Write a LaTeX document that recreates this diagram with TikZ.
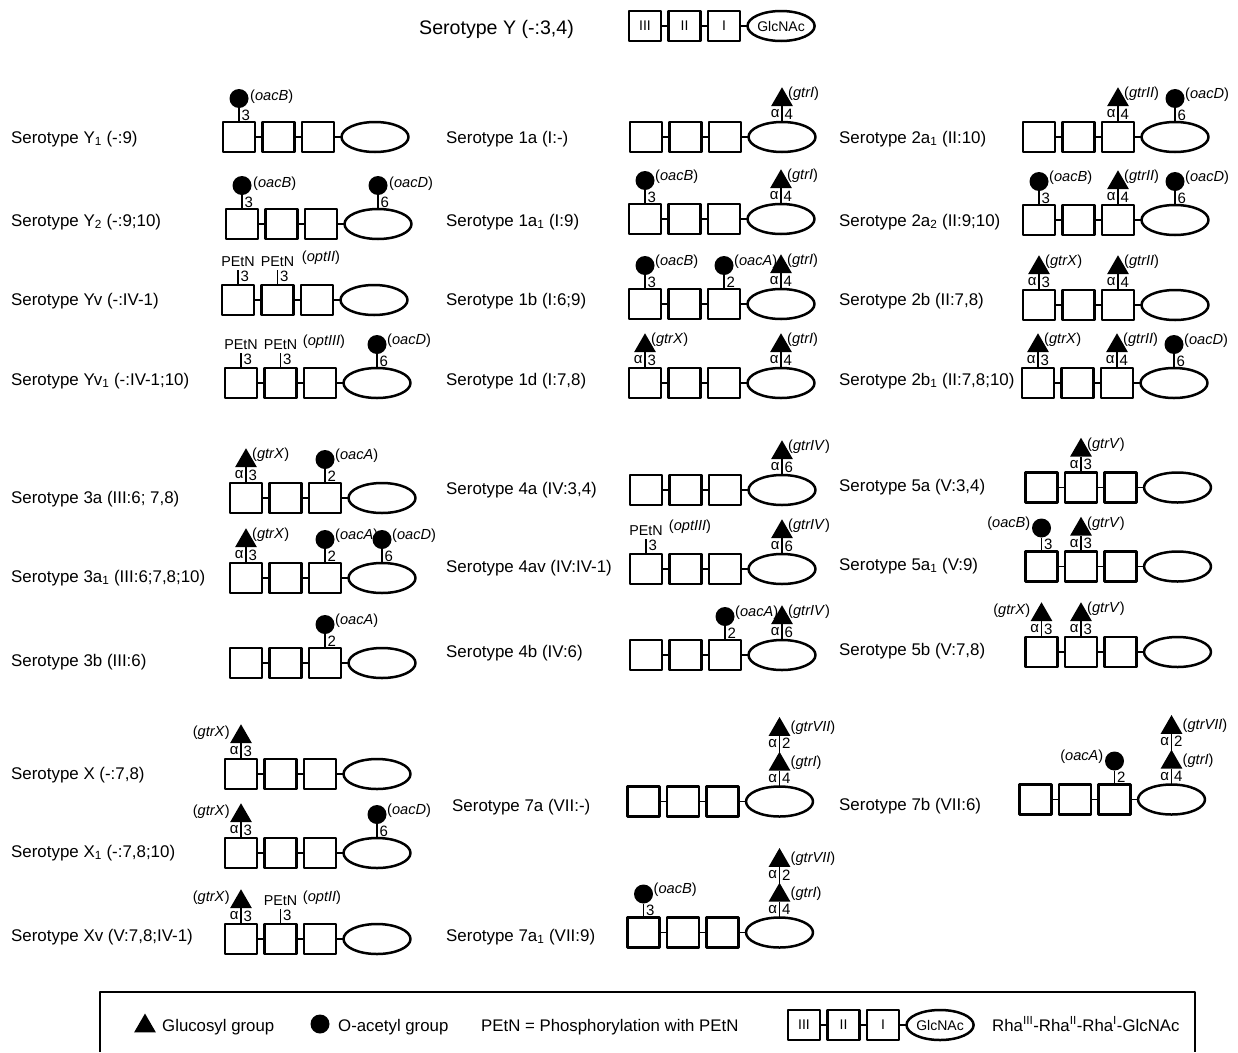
\documentclass[tikz,border=0pt]{standalone}
\usepackage{fontspec}
\setmainfont{Liberation Sans}
\usetikzlibrary{calc,positioning,shapes.geometric}

\tikzset{
  sugar/.style={draw,line width=2.5pt,inner sep=0pt,outer sep=0pt},
  rha/.style={sugar,minimum width=32pt,minimum height=30pt},
  nac/.style={sugar,ellipse,minimum width=67pt,minimum height=30pt},
  bond/.style={line width=1.3pt},
  stem/.style={line width=1.1pt},
  ball/.style={circle,fill=black,inner sep=0pt,outer sep=0pt,minimum size=19pt},
  tri/.style={regular polygon,regular polygon sides=3,fill=black,inner sep=0pt,outer sep=0pt,minimum size=25pt},
  serolab/.style={anchor=base west,inner sep=0pt,font=\fontsize{16.9}{20}\selectfont},
  numlab/.style={inner sep=2pt,font=\fontsize{15}{17}\selectfont},
  genelab/.style={inner sep=0pt,font=\fontsize{14.6}{17}\selectfont},
  gene r/.style={genelab,anchor=west,xshift=10pt,yshift=4pt},
  gene q/.style={genelab,anchor=west,xshift=6pt,yshift=6pt},
  gene s/.style={genelab,anchor=west,xshift=11pt,yshift=2pt},
  gene l/.style={genelab,anchor=east,xshift=-11pt,yshift=4pt},
  sugtext/.style={font=\fontsize{14}{16}\selectfont},
  legtext/.style={anchor=base west,inner sep=0pt,font=\fontsize{16.8}{18}\selectfont},
}

% chain of three rhamnoses and the GlcNAc
\newcommand{\chainlab}[7]{%
  \node[rha,anchor=west,sugtext] (#1a) at (#2,#3) {#4};
  \node[rha,right=7.5pt of #1a,sugtext] (#1b) {#5};
  \node[rha,right=7.5pt of #1b,sugtext] (#1c) {#6};
  \node[nac,right=7.5pt of #1c,sugtext] (#1e) {#7};
  \draw[bond] (#1a)--(#1b);
  \draw[bond] (#1b)--(#1c);
  \draw[bond] (#1c)--(#1e);
}
\newcommand{\sero}[6]{%
  \node[serolab] (#1l) at (#2,#3) {#4};
  \chainlab{#1}{#5}{#6}{}{}{}{}
}
% side, target, name, linkage, gene
\newcommand{\ballon}[5][r]{%
  \node[ball,above=14pt of #2] (#3) {};
  \draw[stem] (#2.north)-- node[right,numlab]{#4} (#3.south);
  \node[gene #1] (#3g) at (#3.center) {(\textit{#5})};
}
\newcommand{\trion}[5][q]{%
  \node[tri,above=16pt of #2] (#3) {};
  \draw[stem] (#2.north)-- node[right,numlab]{#4} node[left,numlab]{α} (#3.south);
  \node[gene #1] (#3g) at (#3.center) {(\textit{#5})};
}
\newcommand{\peton}[3]{%
  \node[inner sep=0pt,font=\fontsize{14.3}{17}\selectfont,above=18pt of #1] (#2) {PEtN};
  \draw[stem,shorten >=3pt] (#1.north)-- node[right,numlab]{#3} (#2.south);
}

\begin{document}
\begin{tikzpicture}[x=1pt,y=-1pt,line join=round]
  \useasboundingbox (0,0) rectangle (1238,1052);

  % top
  \node[serolab,font=\fontsize{19.6}{22}\selectfont] (Yl) at (419,34) {Serotype Y (-:3,4)};
  \chainlab{Y}{629}{26}{III}{II}{I}{GlcNAc}

  % first column
  \sero{Ya}{11}{143}{Serotype Y\textsubscript{1} (-:9)}{223}{137}
  \ballon[s]{Yaa}{Yaam}{3}{oacB}
  \sero{Yb}{11}{226}{Serotype Y\textsubscript{2} (-:9;10)}{226}{224}
  \ballon[s]{Yba}{Ybam}{3}{oacB}
  \ballon[s]{Ybe}{Ybem}{6}{oacD}
  \sero{Yv}{11}{305}{Serotype Yv (-:IV-1)}{222}{300}
  \peton{Yva}{Yvam}{3}
  \peton{Yvb}{Yvbm}{3}
  \node[genelab] (Yvg) at (321,258) {(\textit{optII})};
  \sero{Yw}{11}{385}{Serotype Yv\textsubscript{1} (-:IV-1;10)}{225}{383}
  \peton{Ywa}{Ywam}{3}
  \peton{Ywb}{Ywbm}{3}
  \ballon{Ywe}{Ywem}{6}{oacD}
  \node[genelab] (Ywg) at (324,342) {(\textit{optIII})};

  \sero{Ta}{11}{503}{Serotype 3a (III:6; 7,8)}{230}{498}
  \trion{Taa}{Taam}{3}{gtrX}
  \ballon{Tac}{Tacm}{2}{oacA}
  \sero{Tb}{11}{582}{Serotype 3a\textsubscript{1} (III:6;7,8;10)}{230}{578}
  \trion{Tba}{Tbam}{3}{gtrX}
  \ballon{Tbc}{Tbcm}{2}{oacA}
  \ballon{Tbe}{Tbem}{6}{oacD}
  \sero{Tc}{11}{666}{Serotype 3b (III:6)}{230}{663}
  \ballon{Tcc}{Tccm}{2}{oacA}

  \sero{Xa}{11}{779}{Serotype X (-:7,8)}{225}{774}
  \trion[l]{Xaa}{Xaam}{3}{gtrX}
  \sero{Xb}{11}{857}{Serotype X\textsubscript{1} (-:7,8;10)}{225}{853}
  \trion[l]{Xba}{Xbam}{3}{gtrX}
  \ballon{Xbe}{Xbem}{6}{oacD}
  \sero{Xv}{11}{941}{Serotype Xv (V:7,8;IV-1)}{225}{939}
  \trion[l]{Xva}{Xvam}{3}{gtrX}
  \peton{Xvb}{Xvbm}{3}
  \node[genelab] (Xvg) at (322,898) {(\textit{optII})};

  % second column
  \sero{Oa}{446}{143}{Serotype 1a (I:-)}{630}{137}
  \trion{Oae}{Oaem}{4}{gtrI}
  \sero{Ob}{446}{226}{Serotype 1a\textsubscript{1} (I:9)}{629}{219}
  \ballon{Oba}{Obam}{3}{oacB}
  \trion{Obe}{Obem}{4}{gtrI}
  \sero{Oc}{446}{305}{Serotype 1b (I:6;9)}{629}{304}
  \ballon{Oca}{Ocam}{3}{oacB}
  \ballon{Occ}{Occm}{2}{oacA}
  \trion{Oce}{Ocem}{4}{gtrI}
  \sero{Od}{446}{385}{Serotype 1d (I:7,8)}{629}{383}
  \trion{Oda}{Odam}{3}{gtrX}
  \trion{Ode}{Odem}{4}{gtrI}

  \sero{Fa}{446}{494}{Serotype 4a (IV:3,4)}{630}{490}
  \trion{Fae}{Faem}{6}{gtrIV}
  \sero{Fv}{446}{572}{Serotype 4av (IV:IV-1)}{630}{569}
  \peton{Fva}{Fvam}{3}
  \node[genelab] (Fvg) at (690,527) {(\textit{optIII})};
  \trion{Fve}{Fvem}{6}{gtrIV}
  \sero{Fb}{446}{657}{Serotype 4b (IV:6)}{630}{655}
  \ballon{Fbc}{Fbcm}{2}{oacA}
  \trion{Fbe}{Fbem}{6}{gtrIV}

  \sero{Sa}{452}{811}{Serotype 7a (VII:-)}{627.5}{801.5}
  \trion[s]{Sae}{Saem}{4}{gtrI}
  \trion[s]{Saem}{Saen}{2}{gtrVII}
  \sero{Sb}{446}{941}{Serotype 7a\textsubscript{1} (VII:9)}{627.5}{932.5}
  \ballon{Sba}{Sbam}{3}{oacB}
  \trion[s]{Sbe}{Sbem}{4}{gtrI}
  \trion[s]{Sbem}{Sben}{2}{gtrVII}

  % third column
  \sero{Wa}{839}{143}{Serotype 2a\textsubscript{1} (II:10)}{1023}{137}
  \trion{Wac}{Wacm}{4}{gtrII}
  \ballon{Wae}{Waem}{6}{oacD}
  \sero{Wb}{839}{226}{Serotype 2a\textsubscript{2} (II:9;10)}{1023}{220}
  \ballon{Wba}{Wbam}{3}{oacB}
  \trion{Wbc}{Wbcm}{4}{gtrII}
  \ballon{Wbe}{Wbem}{6}{oacD}
  \sero{Wc}{839}{305}{Serotype 2b (II:7,8)}{1023}{305}
  \trion{Wca}{Wcam}{3}{gtrX}
  \trion{Wcc}{Wccm}{4}{gtrII}
  \sero{Wd}{839}{385}{Serotype 2b\textsubscript{1} (II:7,8;10)}{1022}{383}
  \trion{Wda}{Wdam}{3}{gtrX}
  \trion{Wdc}{Wdcm}{4}{gtrII}
  \ballon{Wde}{Wdem}{6}{oacD}

  \sero{Va}{839}{491}{Serotype 5a (V:3,4)}{1025.5}{487.5}
  \trion{Vab}{Vabm}{3}{gtrV}
  \sero{Vb}{839}{570}{Serotype 5a\textsubscript{1} (V:9)}{1025.5}{566.5}
  \ballon[l]{Vba}{Vbam}{3}{oacB}
  \trion{Vbb}{Vbbm}{3}{gtrV}
  \sero{Vc}{839}{655}{Serotype 5b (V:7,8)}{1025.5}{652}
  \trion[l]{Vca}{Vcam}{3}{gtrX}
  \trion{Vcb}{Vcbm}{3}{gtrV}

  \sero{Sc}{839}{810}{Serotype 7b (VII:6)}{1019.5}{799.5}
  \ballon[l]{Scc}{Sccm}{2}{oacA}
  \trion[s]{Sce}{Scem}{4}{gtrI}
  \trion[s]{Scem}{Scen}{2}{gtrVII}

  % legend
  \draw[line width=1.8pt] (100,1052)--(100,992)--(1195,992)--(1195,1052);
  \node[tri] (Lt) at (145,1026) {};
  \node[legtext] (Ltl) at (162,1031) {Glucosyl group};
  \node[ball] (Lb) at (320,1024) {};
  \node[legtext] (Lbl) at (338,1031) {O-acetyl group};
  \node[legtext] (Lp) at (481,1031) {PEtN = Phosphorylation with PEtN};
  \chainlab{L}{788}{1025}{III}{II}{I}{GlcNAc}
  \node[legtext] (Lr) at (992,1031) {Rha\textsuperscript{III}-Rha\textsuperscript{II}-Rha\textsuperscript{I}-GlcNAc};
\end{tikzpicture}
\end{document}
